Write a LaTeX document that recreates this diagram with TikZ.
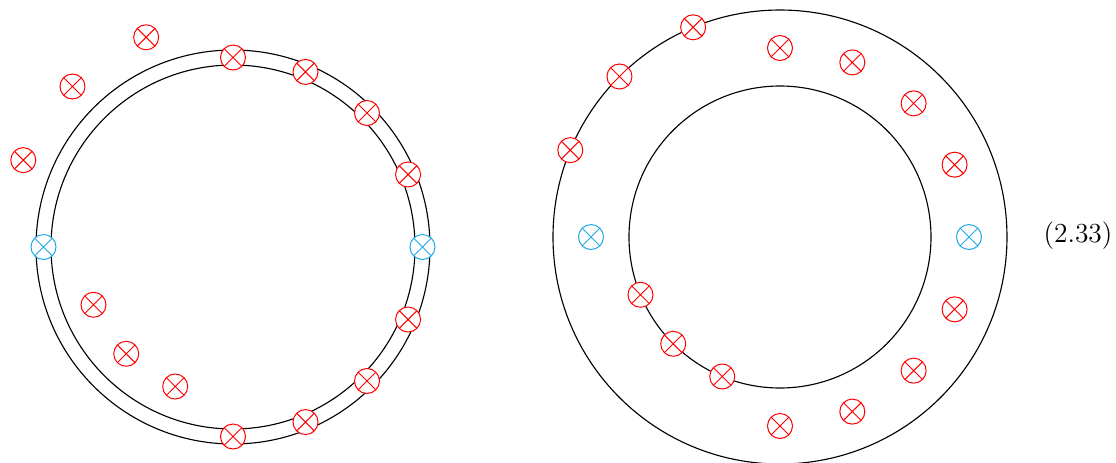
\documentclass[tikz,border=0pt]{standalone}
\usetikzlibrary{positioning}
\definecolor{cred}{HTML}{FF0000}
\definecolor{cblue}{HTML}{22AAE6}
\tikzset{
  every picture/.style={x=0.4pt, y=0.4pt},
  ring/.style={draw=black, line width=0.45pt},
  otimes/.style={circle, draw=#1, fill=white, minimum size=10pt, inner sep=0pt,
    path picture={\draw[#1] (path picture bounding box.north west) -- (path picture bounding box.south east)
      (path picture bounding box.south west) -- (path picture bounding box.north east);}},
  otimes/.default=cred,
}
\begin{document}
\begin{tikzpicture}
  \useasboundingbox (0,0) rectangle (1116,-462);
  % left: thin annulus
  \begin{scope}[shift={(233,-247)}]
  \coordinate (lc) at (0,0);
  \draw[ring] (lc) circle (197);
  \draw[ring] (lc) circle (182);
  \foreach \a [count=\i] in {90,67.5,45,22.5,-22.5,-45,-67.5,-90}
    \node[otimes] (lr\i) at (\a:189.5) {};
  \foreach \a [count=\i] in {112.5,135,157.5}
    \node[otimes] (lo\i) at (\a:227) {};
  \foreach \a [count=\i] in {202.5,225,247.5}
    \node[otimes] (li\i) at (\a:151) {};
  \node[otimes=cblue] (lb1) at (0:189.5) {};
  \node[otimes=cblue] (lb2) at (180:189.5) {};
  \end{scope}
  % right: thick annulus
  \begin{scope}[shift={(780,-237)}]
  \coordinate (rc) at (0,0);
  \draw[ring] (rc) circle (227);
  \draw[ring] (rc) circle (151);
  \foreach \a [count=\i] in {90,67.5,45,22.5,-22.5,-45,-67.5,-90}
    \node[otimes] (rr\i) at (\a:189) {};
  \foreach \a [count=\i] in {112.5,135,157.5}
    \node[otimes] (ro\i) at (\a:227) {};
  \foreach \a [count=\i] in {202.5,225,247.5}
    \node[otimes] (ri\i) at (\a:151) {};
  \node[otimes=cblue] (rb1) at (0:189) {};
  \node[otimes=cblue] (rb2) at (180:189) {};
  \end{scope}
  \node[font=\fontsize{11}{13}\selectfont] (eqn) at (1078,-236) {(2.33)};
\end{tikzpicture}
\end{document}
